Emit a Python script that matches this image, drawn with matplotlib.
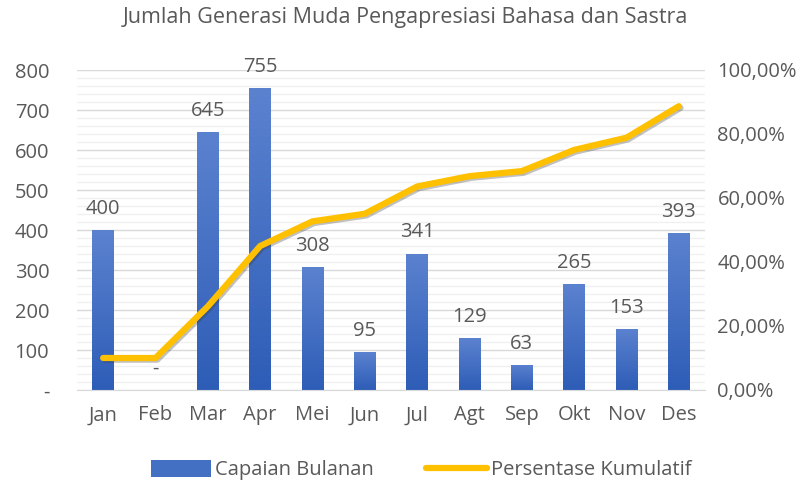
import numpy as np
import matplotlib.pyplot as plt
import matplotlib.patheffects as pe
from matplotlib.ticker import MultipleLocator, FuncFormatter
from matplotlib.patches import Patch
from matplotlib.lines import Line2D
from matplotlib.colors import LinearSegmentedColormap

plt.rcParams['font.family'] = ['Open Sans', 'DejaVu Sans']

# Data
bulan = ['Jan', 'Feb', 'Mar', 'Apr', 'Mei', 'Jun', 'Jul', 'Agt', 'Sep', 'Okt', 'Nov', 'Des']
capaian = [400, 0, 645, 755, 308, 95, 341, 129, 63, 265, 153, 393]
persen_kumulatif = [10.00, 10.00, 26.13, 45.00, 52.70, 55.08, 63.60, 66.83, 68.40, 75.03, 78.85, 88.68]

title = 'Jumlah Generasi Muda Pengapresiasi Bahasa dan Sastra'
txt = '#595959'
bar_top = '#5b82cf'
bar_bot = '#2e5db7'
yellow = '#FFC000'
fs = 14.5

fig = plt.figure(figsize=(8.11, 4.84), dpi=100)
ax = fig.add_axes([77/811, 94/484, 628/811, 320/484])
ax2 = ax.twinx()

x = np.arange(len(bulan))
bars = ax.bar(x, capaian, width=0.42, color=bar_bot, zorder=2)

# vertical gradient on each bar
grad = np.linspace(0, 1, 256).reshape(-1, 1)
cmap = LinearSegmentedColormap.from_list('g', [bar_bot, bar_top])
for b in bars:
    if b.get_height() <= 0:
        continue
    x0, y0 = b.get_x(), b.get_y()
    im = ax.imshow(grad, cmap=cmap, aspect='auto', origin='lower',
                   extent=[x0, x0 + b.get_width(), y0, y0 + b.get_height()], zorder=2)
    im.set_clip_path(b)

for xi, v in zip(x, capaian):
    lab = '-' if v == 0 else str(v)
    ax.annotate(lab, (xi, v), xytext=(0, 8), textcoords='offset points',
                ha='center', va='bottom', fontsize=fs, color=txt, zorder=4)

ax.set_xlim(-0.5, len(bulan) - 0.5)
ax.set_ylim(0, 800)
ax.yaxis.set_major_locator(MultipleLocator(100))
ax.yaxis.set_minor_locator(MultipleLocator(20))
ax.yaxis.set_major_formatter(FuncFormatter(lambda v, p: '-' if v == 0 else f'{int(v)}'))
ax.grid(axis='y', which='major', color='#d9d9d9', linewidth=1.0, zorder=0)
ax.grid(axis='y', which='minor', color='#f0f0f0', linewidth=1.0, zorder=0)
ax.set_axisbelow(True)
ax.set_xticks(x)
ax.set_xticklabels(bulan)
ax.tick_params(axis='both', which='both', length=0, labelsize=fs, labelcolor=txt)
ax.tick_params(axis='y', pad=20)
ax.tick_params(axis='x', pad=11)

ax2.plot(x, persen_kumulatif, color=yellow, linewidth=4.5, solid_capstyle='round',
         solid_joinstyle='round', zorder=5,
         path_effects=[pe.SimpleLineShadow(offset=(1.2, -1.2), shadow_color='#333333', alpha=0.3),
                       pe.Normal()])
ax2.set_ylim(0, 100)
ax2.yaxis.set_major_locator(MultipleLocator(20))
ax2.yaxis.set_major_formatter(FuncFormatter(lambda v, p: f'{v:.2f}'.replace('.', ',') + '%'))
ax2.tick_params(axis='y', length=0, labelsize=fs, labelcolor=txt, pad=9)

for a in (ax, ax2):
    for s in a.spines.values():
        s.set_visible(False)
ax.spines['bottom'].set_visible(True)
ax.spines['bottom'].set_color('#d9d9d9')

fig.suptitle(title, x=405/811, y=1 - 18/484, va='center', fontsize=15.5, color=txt)

handles = [Patch(facecolor='#4470c4', edgecolor='none'),
           Line2D([0], [0], color=yellow, linewidth=4.5, solid_capstyle='round')]
fig.legend(handles, ['Capaian Bulanan', 'Persentase Kumulatif'], loc='center',
           bbox_to_anchor=(421/811, 1 - 470/484), ncol=2, frameon=False,
           fontsize=fs, labelcolor=txt, handlelength=3.0, handleheight=0.9,
           handletextpad=0.2, columnspacing=2.6)

fig.savefig('out.png', dpi=100)
